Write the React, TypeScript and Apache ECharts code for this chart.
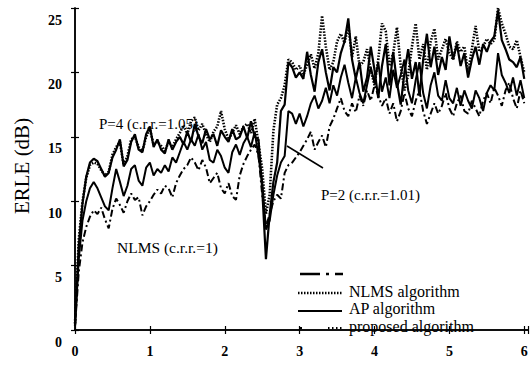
import React, { useEffect, useRef } from "react";
import * as echarts from "echarts";

const X_STEP = 0.05;

// NLMS algorithm (dash-dot, lowest curve)
const nlms = [
  0.3, 4.5, 6.8, 8.0, 8.8, 9.3, 9.0, 9.5, 8.6, 7.9,
  9.4, 10.2, 9.7, 9.1, 10.0, 10.6, 10.1, 10.3, 8.9, 9.6,
  10.0, 10.5, 10.9, 10.6, 11.2, 11.0, 10.3, 11.4, 12.0, 12.5,
  12.8, 13.4, 13.0, 12.4, 13.2, 12.6, 11.4, 11.8, 12.2, 11.0,
  10.6, 11.4, 10.4, 10.1, 12.0, 12.9, 13.5, 14.0, 14.4, 13.6,
  10.5, 8.0, 9.0, 10.0, 10.5, 10.2, 12.2, 12.8, 13.0, 13.4,
  13.8, 14.3, 14.8, 15.4, 14.0, 14.6, 15.1, 14.2, 15.8, 16.4,
  17.2, 18.0, 17.0, 16.6, 17.6, 16.9, 18.2, 17.4, 18.6, 17.8,
  19.0, 18.2, 17.4, 18.0, 16.8, 17.6, 16.2, 17.0, 18.4, 17.2,
  16.6, 17.8, 18.6, 17.0, 16.0, 16.8, 17.6, 16.8, 17.4, 18.4,
  17.2, 16.6, 17.6, 18.2, 17.0, 16.8, 17.8, 17.2, 16.6, 17.8,
  18.4, 17.6, 18.8, 18.2, 17.4, 18.6, 19.2, 18.0, 17.2, 18.6,
  17.6,
];

// AP algorithm P=2 (solid, middle curve)
const apP2 = [
  0.3, 5.5, 8.5, 10.0, 11.0, 11.5, 11.0, 10.3, 9.6, 9.3,
  11.0, 12.5, 11.5, 10.4, 11.2, 12.5, 12.8, 11.6, 11.2, 12.6,
  13.0, 12.0, 12.5, 12.2, 12.8, 12.3, 13.4, 13.0, 13.8, 14.6,
  14.0, 14.8, 14.3, 15.2, 14.0, 14.6, 13.2, 13.0, 14.0, 13.5,
  12.6, 12.2, 13.8, 14.4, 13.6, 14.5, 15.0, 14.2, 15.4, 13.5,
  11.5, 7.8, 8.5, 10.5, 12.0, 13.0, 13.5, 17.0, 16.8, 16.0,
  16.8, 15.8, 16.6, 17.6, 18.2, 17.2, 17.8, 18.8, 17.6, 19.0,
  18.2, 19.6, 20.6, 19.2, 18.0, 19.6, 18.4, 17.6, 19.0, 20.4,
  19.2, 20.8, 18.5, 19.6, 18.0, 20.2, 18.8, 19.8, 21.0, 18.6,
  17.6, 19.4, 20.8, 18.4, 17.2, 19.0, 20.0, 18.2, 17.8, 19.4,
  18.0, 17.6, 18.8, 17.4, 18.6, 17.8, 17.2, 18.6, 18.0, 17.0,
  18.4, 19.0, 18.6, 21.5, 19.8, 19.2, 18.4, 19.6, 18.2, 19.4,
  18.0,
];

// AP algorithm P=4 (dotted, top curve)
const apP4 = [
  0.5, 7.0, 10.0, 11.8, 12.8, 13.0, 12.9, 12.4, 12.0, 12.3,
  13.6, 14.2, 14.6, 12.8, 13.5, 14.8, 15.0, 14.2, 13.9, 15.0,
  15.6, 14.4, 14.6, 14.3, 13.9, 14.6, 14.2, 14.8, 15.3, 15.9,
  15.2, 16.2, 16.5, 15.5, 16.0, 15.2, 14.6, 15.4, 15.8, 17.0,
  15.6, 14.8, 15.3, 15.9, 15.2, 15.8, 16.0, 15.3, 16.4, 14.5,
  12.5, 9.0, 10.5, 15.5, 17.5, 18.0, 19.0, 21.0, 20.8, 20.2,
  20.5, 19.8, 20.6, 21.4, 20.3, 21.5, 24.4, 22.0, 20.2, 20.8,
  22.4, 23.0, 22.3, 23.6, 21.2, 22.8, 20.5, 20.8, 21.8, 20.2,
  19.0, 21.0, 23.8, 23.2, 20.5, 21.5, 23.5, 20.5, 18.6, 19.8,
  22.0, 23.8, 21.0, 22.2, 20.2, 22.4, 23.4, 21.0, 21.8, 22.6,
  21.5, 21.0, 22.4, 21.6, 22.0, 20.0, 21.8, 23.6, 21.6, 22.0,
  22.6, 22.2, 22.5, 25.0, 23.8, 23.0, 22.0, 21.8, 22.5, 21.2,
  20.0,
];

// proposed algorithm (solid, top)
const proposed = [
  0.3, 6.5, 9.8, 11.9, 13.0, 13.3, 13.1, 12.5, 11.9, 12.2,
  13.4, 14.0, 14.8, 12.7, 13.2, 14.6, 15.2, 14.0, 13.8, 15.2,
  15.8, 14.2, 14.8, 14.0, 13.7, 14.8, 14.0, 14.6, 15.0, 14.4,
  15.4, 14.6, 16.0, 15.0, 14.5, 15.6, 14.8, 15.2, 14.3, 15.5,
  15.0, 14.6, 15.6, 14.8, 15.0, 15.8, 14.9, 16.2, 15.0, 14.8,
  11.0, 5.5, 9.0, 11.5, 13.0, 17.0, 17.5, 20.8, 20.4, 19.6,
  20.0, 19.5, 21.6, 19.8, 18.5, 20.8, 21.8, 20.0, 18.6, 20.4,
  20.0, 21.5, 22.4, 24.2, 21.0, 19.5, 20.8, 18.5, 19.6, 22.0,
  20.2, 18.0, 20.5, 22.2, 19.0, 21.6, 19.2, 17.5, 20.0, 21.8,
  19.5, 20.8, 18.2, 21.0, 23.0, 20.4, 22.0, 19.8, 21.2, 20.2,
  22.8, 21.0, 22.2, 20.5, 21.5, 19.6, 21.0, 22.0, 20.6, 22.2,
  21.6, 22.4, 22.8, 24.8, 22.5, 21.8, 21.0, 20.8, 20.4, 21.2,
  19.5,
];

const xTicks = [0, 1, 2, 3, 4, 5, 6];
const yTicks = [0, 5, 10, 15, 20, 25];
const yAxisTitle = "ERLE (dB)";
const legendLabels = ["NLMS algorithm", "AP algorithm", "proposed algorithm"];
const annotationP4 = "P=4 (c.r.r.=1.05)";
const annotationNlms = "NLMS (c.r.r.=1)";
const annotationP2 = "P=2 (c.r.r.=1.01)";

const SERIF = "Liberation Serif";

const toPairs = (arr: number[]) => arr.map((v, i) => [+(i * X_STEP).toFixed(2), v]);

export default function App() {
  const ref = useRef<HTMLDivElement>(null);
  useEffect(() => {
    if (!ref.current) return;
    const chart = echarts.init(ref.current, undefined, { renderer: "svg" });
    const black = "#000";
    const txt = (text: string, x: number, y: number, size: number, extra: any = {}) => ({
      type: "text",
      x,
      y,
      style: {
        text,
        fontFamily: SERIF,
        fontSize: size,
        fill: black,
        textAlign: "left",
        textVerticalAlign: "middle",
        align: "left",
        verticalAlign: "middle",
        ...extra,
      },
      z: 100,
    });
    const seg = (x1: number, y1: number, x2: number, y2: number, w: number, dash?: number[]) => ({
      type: "line",
      shape: { x1, y1, x2, y2 },
      style: { stroke: black, lineWidth: w, lineDash: dash },
      z: 100,
    });
    const xMin = xTicks[0];
    const xMax = 6.05;
    const yMin = yTicks[0];
    const yMax = yTicks[yTicks.length - 1];
    const axisCommon = {
      axisLine: { show: true, lineStyle: { color: black, width: 1.5 } },
      axisTick: { show: true, inside: true, length: 4, lineStyle: { color: black, width: 1.2 } },
      splitLine: { show: false },
    };
    chart.setOption({
      animation: false,
      backgroundColor: "#fff",
      grid: { left: 75, right: 2, top: 8, bottom: 35, show: false },
      xAxis: [
        {
          type: "value",
          min: xMin,
          max: xMax,
          interval: 1,
          ...axisCommon,
          axisLabel: {
            show: true,
            color: black,
            fontFamily: SERIF,
            fontWeight: "bold",
            fontSize: 14,
            margin: 14,
            formatter: (v: number) => (xTicks.includes(v) ? String(v) : ""),
          },
        },
        {
          type: "value",
          position: "top",
          min: xMin,
          max: xMax,
          interval: 1,
          ...axisCommon,
          axisLabel: { show: false },
        },
      ],
      yAxis: [
        {
          type: "value",
          min: yMin,
          max: yMax,
          interval: 5,
          ...axisCommon,
          axisLabel: {
            show: true,
            color: black,
            fontFamily: SERIF,
            fontWeight: "bold",
            fontSize: 14,
            margin: 13,
            verticalAlign: "top",
            lineHeight: 24,
            formatter: (v: number) => (yTicks.includes(v) ? String(v) : ""),
          },
        },
        {
          type: "value",
          position: "right",
          min: yMin,
          max: yMax,
          interval: 5,
          ...axisCommon,
          axisLabel: { show: false },
        },
      ],
      series: [
        {
          name: "NLMS",
          type: "line",
          data: toPairs(nlms),
          showSymbol: false,
          lineStyle: { color: black, width: 2, type: [7, 3, 2, 3] },
          z: 2,
        },
        {
          name: "AP P=2",
          type: "line",
          data: toPairs(apP2),
          showSymbol: false,
          lineStyle: { color: black, width: 2 },
          z: 3,
        },
        {
          name: "AP P=4",
          type: "line",
          data: toPairs(apP4),
          showSymbol: false,
          lineStyle: { color: black, width: 2.6, type: [1.5, 1.5] },
          z: 4,
        },
        {
          name: "proposed",
          type: "line",
          data: toPairs(proposed),
          showSymbol: false,
          lineStyle: { color: black, width: 2.2 },
          z: 5,
        },
      ],
      graphic: [
        {
          type: "text",
          x: 22,
          y: 166,
          rotation: Math.PI / 2,
          style: {
            text: yAxisTitle,
            fontFamily: SERIF,
            fontSize: 21,
            fill: black,
            textAlign: "center",
            textVerticalAlign: "middle",
            align: "center",
            verticalAlign: "middle",
          },
        },
        txt(annotationP4, 99, 124, 15),
        txt(annotationNlms, 117, 247, 15.5),
        txt(annotationP2, 321, 195, 15),
        seg(287, 146, 323, 168, 1.5),
        // legend samples
        seg(300, 274, 343, 274, 2.5, [20, 6, 3, 6]),
        seg(298, 293, 342, 293, 2.5, [1.5, 1.5]),
        seg(298, 311, 342, 311, 2.2),
        seg(300, 328, 302, 328, 2),
        seg(328, 328, 344, 328, 2, [1.5, 2.5]),
        txt(legendLabels[0], 349, 291, 16),
        txt(legendLabels[1], 349, 308.5, 16),
        txt(legendLabels[2], 349, 326, 16),
      ],
    });
    return () => chart.dispose();
  }, []);
  return <div ref={ref} style={{ width: 531, height: 365, position: "absolute", left: 0, top: 0, background: "#fff" }} />;
}
